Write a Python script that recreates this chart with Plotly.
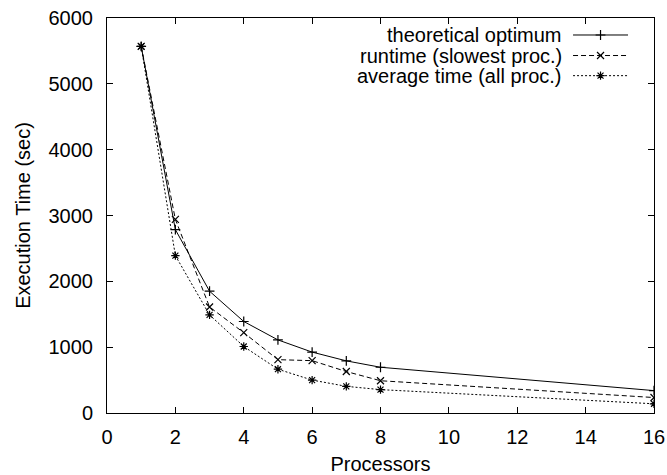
import plotly.graph_objects as go

processors = [1, 2, 3, 4, 5, 6, 7, 8, 16]
theoretical = [5570, 2785, 1850, 1390, 1110, 925, 792, 695, 340]
runtime = [5570, 2940, 1610, 1220, 810, 795, 630, 490, 235]
average = [5570, 2390, 1490, 1010, 665, 500, 405, 355, 140]

series_names = ["theoretical optimum", "runtime (slowest proc.)", "average time (all proc.)"]
series_values = [theoretical, runtime, average]
series_dash = ["solid", "5px,3px", "2px,2px"]
series_symbol = ["cross-thin-open", "x-thin-open", "asterisk-open"]

x_ticks = list(range(0, 17, 2))
y_ticks = list(range(0, 6001, 1000))

FONT = "Liberation Sans, Arial, sans-serif"
FS = 20

fig = go.Figure()
for name, vals, dash, sym in zip(series_names, series_values, series_dash, series_symbol):
    fig.add_trace(go.Scatter(
        x=processors, y=vals, mode="lines+markers", name=name,
        line=dict(color="black", width=1, dash=dash),
        marker=dict(symbol=sym, size=7, color="black", line=dict(color="black", width=1.2)),
        showlegend=False,
    ))

# custom gnuplot-style key (text right, sample left->right)
key_rows = [0.957, 0.905, 0.854]
key_x0, key_x1, key_text_x = 0.852, 0.9525, 0.836
for name, dash, sym, ry in zip(series_names, series_dash, series_symbol, key_rows):
    fig.add_trace(go.Scatter(
        x=[key_x0, key_x1], y=[ry, ry], mode="lines", xaxis="x2", yaxis="y2",
        line=dict(color="black", width=1, dash=dash), showlegend=False, hoverinfo="skip",
    ))
    fig.add_trace(go.Scatter(
        x=[(key_x0 + key_x1) / 2], y=[ry], mode="markers", xaxis="x2", yaxis="y2",
        marker=dict(symbol=sym, size=7, color="black", line=dict(color="black", width=1.2)),
        showlegend=False, hoverinfo="skip",
    ))
    fig.add_annotation(
        x=key_text_x, y=ry, xref="paper", yref="paper", text=name, showarrow=False,
        xanchor="right", yanchor="middle", font=dict(family=FONT, size=FS, color="black"),
    )

axis_common = dict(
    showgrid=False, zeroline=False, showline=True, linecolor="black", linewidth=1,
    mirror="allticks", ticks="inside", ticklen=6, tickcolor="black", tickwidth=1,
    tickfont=dict(family=FONT, size=FS, color="black"), automargin=False,
)

fig.update_layout(
    width=667, height=475,
    margin=dict(l=107, r=13, t=18, b=62),
    paper_bgcolor="white", plot_bgcolor="white",
    xaxis=dict(range=[0, 16], tickvals=x_ticks, ticktext=[str(v) for v in x_ticks],
               title=dict(text="Processors", font=dict(family=FONT, size=FS, color="black"), standoff=11),
               ticklabelstandoff=6, **axis_common),
    yaxis=dict(range=[0, 6000], tickvals=y_ticks, ticktext=[str(v) for v in y_ticks],
               title=dict(text="Execution Time (sec)", font=dict(family=FONT, size=FS, color="black"), standoff=12),
               ticklabelstandoff=9, **axis_common),
    xaxis2=dict(range=[0, 1], overlaying="x", visible=False, fixedrange=True),
    yaxis2=dict(range=[0, 1], overlaying="y", visible=False, fixedrange=True),
    showlegend=False,
)

fig.write_html("out.html", config={"displayModeBar": False},
               post_script="document.body.style.margin='0';document.body.style.padding='0';")
